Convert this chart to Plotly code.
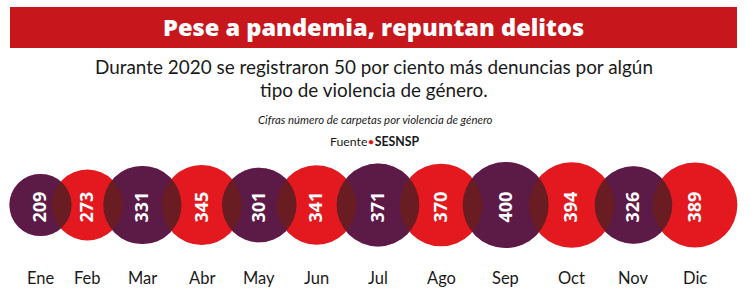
import math
import plotly.graph_objects as go

# ---------------- data ----------------
meses = ["Ene", "Feb", "Mar", "Abr", "May", "Jun", "Jul", "Ago", "Sep", "Oct", "Nov", "Dic"]
carpetas = [209, 273, 331, 345, 301, 341, 371, 370, 400, 394, 326, 389]

titulo = "Pese a pandemia, repuntan delitos"
subtitulo_1 = "Durante 2020 se registraron 50 por ciento más denuncias por algún"
subtitulo_2 = "tipo de violencia de género."
nota = "Cifras número de carpetas por violencia de género"
fuente = "SESNSP"

# ---------------- layout constants ----------------
W, H = 750, 297
K = 2.15                      # bubble radius (px) per sqrt(value)
SIZEREF = 1 / (2 * K * K)     # plotly area-mode: r = sqrt(v / (2*sizeref))
OVERLAP = 19.7                # px overlap between neighbouring bubbles
FIRST_X = 40.5
CIRCLE_Y = 205
LABEL_AXIS_Y = 187            # pixel row of the (invisible) axis carrying the rotated values

PURPLE_BASE = "rgb(192,22,121)"
PURPLE_TOP = "rgb(25,30,39)"
PURPLE_TOP_OPACITY = 0.6
RED = "rgb(227,25,31)"
BANNER = "#C8161D"

# bubble radii (same formula as plotly uses) -> packed centres
radii = [math.sqrt(v / (2 * SIZEREF)) for v in carpetas]
centros = [FIRST_X]
for i in range(1, len(carpetas)):
    centros.append(centros[-1] + radii[i - 1] + radii[i] - OVERLAP)

idx_p = [i for i in range(len(carpetas)) if i % 2 == 0]
idx_r = [i for i in range(len(carpetas)) if i % 2 == 1]


def bubbles(idx, color, opacity=1.0):
    return go.Scatter(
        x=[centros[i] for i in idx],
        y=[CIRCLE_Y] * len(idx),
        mode="markers",
        marker=dict(
            size=[carpetas[i] for i in idx],
            sizemode="area",
            sizeref=SIZEREF,
            color=color,
            opacity=opacity,
            line=dict(width=0),
        ),
        hoverinfo="skip",
    )


fig = go.Figure()
fig.add_trace(bubbles(idx_p, PURPLE_BASE))
fig.add_trace(bubbles(idx_r, RED))
fig.add_trace(bubbles(idx_p, PURPLE_TOP, PURPLE_TOP_OPACITY))
# carrier for the value axis (invisible points)
fig.add_trace(go.Scatter(
    x=centros, y=[CIRCLE_Y] * len(centros), mode="markers",
    marker=dict(size=1, opacity=0), hoverinfo="skip", xaxis="x2", yaxis="y",
))

annotations = []
for x, m in zip(centros, meses):
    annotations.append(dict(
        x=x, y=278, xref="x", yref="y", text=m, showarrow=False,
        xanchor="center", yanchor="middle",
        font=dict(family="Lato", size=16.5, color="#1a1a1a"),
    ))

annotations += [
    dict(x=373.5, y=27, xref="x", yref="y", text=titulo, showarrow=False,
         xanchor="center", yanchor="middle",
         font=dict(family="Open Sans", size=23.6, color="white", weight=800)),
    dict(x=373.5, y=66, xref="x", yref="y", text=subtitulo_1, showarrow=False,
         xanchor="center", yanchor="middle",
         font=dict(family="Lato", size=18.9, color="#1a1a1a")),
    dict(x=373.5, y=89, xref="x", yref="y", text=subtitulo_2, showarrow=False,
         xanchor="center", yanchor="middle",
         font=dict(family="Lato", size=18.9, color="#1a1a1a")),
    dict(x=375, y=119, xref="x", yref="y", text="<i>" + nota + "</i>", showarrow=False,
         xanchor="center", yanchor="middle",
         font=dict(family="Lato", size=11.4, color="#1a1a1a")),
    dict(x=374, y=141, xref="x", yref="y",
         text="Fuente<span style='color:#E3191F'>•</span><b>" + fuente + "</b>",
         showarrow=False, xanchor="center", yanchor="middle",
         font=dict(family="Lato", size=12.3, color="#1a1a1a")),
]

fig.update_layout(
    width=W, height=H,
    margin=dict(l=0, r=0, t=0, b=0),
    paper_bgcolor="white", plot_bgcolor="white",
    showlegend=False,
    xaxis=dict(range=[0, W], visible=False, fixedrange=True),
    yaxis=dict(range=[H, 0], visible=False, fixedrange=True),
    xaxis2=dict(
        range=[0, W], overlaying="x", anchor="free",
        position=1 - LABEL_AXIS_Y / H, side="bottom",
        tickmode="array", tickvals=centros, ticktext=[str(v) for v in carpetas],
        tickangle=-90, ticks="", showline=False, showgrid=False, zeroline=False,
        tickfont=dict(family="Open Sans", size=18, color="white", weight=700),
        fixedrange=True,
    ),
    shapes=[dict(type="rect", xref="x", yref="y", x0=10, x1=737, y0=7, y1=48,
                 fillcolor=BANNER, line=dict(width=0), layer="below")],
    annotations=annotations,
)

fig.write_html("out.html")
